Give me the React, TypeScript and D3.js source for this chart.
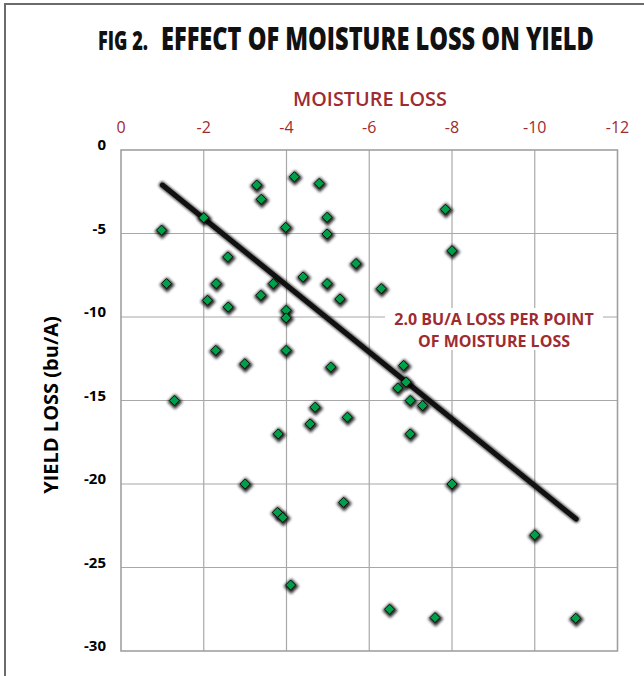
import * as d3 from "d3";
import { useLayoutEffect, useRef } from "react";

// moisture loss (points) and yield loss (bu/A)
const moistureLoss = [
  -0.98, -1.1, -1.29, -2.0, -2.09, -2.3, -2.29, -2.58, -2.59, -2.99,
  -3.0, -3.28, -3.39, -3.38, -3.68, -3.8, -3.78, -3.91, -3.98, -3.99,
  -3.99, -3.99, -4.1, -4.19, -4.4, -4.57, -4.69, -4.79, -4.98, -4.98,
  -4.98, -5.07, -5.29, -5.38, -5.47, -5.68, -6.29, -6.49, -6.83, -6.69,
  -6.89, -6.99, -7.29, -6.99, -7.59, -7.84, -8.0, -8.0, -10.0, -10.99,
];
const yieldLoss = [
  -4.8, -8.0, -15.0, -4.05, -9.0, -8.0, -12.0, -6.4, -9.4, -12.8,
  -20.0, -2.1, -2.95, -8.7, -8.0, -17.0, -21.7, -22.0, -4.63, -9.6,
  -10.05, -12.0, -26.05, -1.6, -7.6, -16.4, -15.4, -2.0, -4.03, -5.03,
  -8.0, -13.0, -8.92, -21.1, -16.0, -6.8, -8.3, -27.5, -12.9, -14.25,
  -13.9, -15.0, -15.3, -17.0, -28.0, -3.55, -6.03, -20.0, -23.05, -28.04,
];

// fitted line: 2.0 bu/A per point
const trendX = [-1, -11];
const trendY = [-2.1, -22.1];

const xTicks = [0, -2, -4, -6, -8, -10, -12];
const yTicks = [0, -5, -10, -15, -20, -25, -30];

const red = "#9e2b2f";
const font = "'Open Sans', 'Noto Sans', sans-serif";

// squeezes a text horizontally so it spans `w` pixels from x
const FitText = ({ x, y, w, size, weight, fill, children }: any) => {
  const ref = useRef<SVGTextElement>(null);
  useLayoutEffect(() => {
    const el = ref.current;
    if (!el) return;
    const natural = el.getComputedTextLength();
    const k = natural > 0 ? w / natural : 1;
    el.setAttribute("transform", `translate(${x},${y}) scale(${k},1)`);
  }, [x, y, w]);
  return (
    <text ref={ref} transform={`translate(${x},${y})`} fontFamily={font}
      fontWeight={weight} fontSize={size} fill={fill}>
      {children}
    </text>
  );
};

export default function App() {
  const width = 644;
  const height = 676;

  const x = d3.scaleLinear().domain([0, -12]).range([121, 617.5]);
  const y = d3.scaleLinear().domain([0, -30]).range([150, 651]);

  const line = d3
    .line<number>()
    .x((d) => x(trendX[d]))
    .y((d) => y(trendY[d]));

  const diamond = d3.symbol().type(d3.symbolDiamond2).size(64)() ?? "";
  const halo = d3.symbol().type(d3.symbolDiamond2).size(150)() ?? "";

  return (
    <svg
      width={width}
      height={height}
      style={{ position: "absolute", left: 0, top: 0, background: "#fff" }}
    >
      <defs>
        <filter id="blur" x="-100%" y="-100%" width="300%" height="300%">
          <feGaussianBlur stdDeviation="1.6" />
        </filter>
        <filter id="lineShadow" x="-10%" y="-10%" width="120%" height="120%">
          <feGaussianBlur stdDeviation="1.3" />
        </filter>
      </defs>

      {/* outer frame */}
      <rect x={5} y={4} width={700} height={700} fill="none" stroke="#6b6b6b" strokeWidth={2} />

      {/* title */}
      <FitText x={98} y={50} w={50} size={26} weight={800} fill="#111">FIG 2.</FitText>
      <FitText x={161} y={50} w={433} size={31} weight={800} fill="#111">
        EFFECT OF MOISTURE LOSS ON YIELD
      </FitText>

      {/* top axis */}
      <FitText x={293} y={106} w={154} size={19} weight={600} fill={red}>MOISTURE LOSS</FitText>
      {xTicks.map((t) => (
        <text key={t} x={x(t)} y={133} textAnchor="middle" fontFamily={font}
          fontSize={16} fill={red}>
          {t}
        </text>
      ))}

      {/* left axis */}
      {yTicks.map((t) => (
        <text key={t} x={106} y={y(t) - 5} dy="0.35em" textAnchor="end" fontFamily={font}
          fontWeight={700} fontSize={15} fill="#000">
          {t}
        </text>
      ))}
      <text transform="translate(58,405) rotate(-90)" textAnchor="middle" fontFamily={font}
        fontWeight={700} fontSize={20} fill="#000">
        YIELD LOSS (bu/A)
      </text>

      {/* grid */}
      <g stroke="#a8a8a8" strokeWidth={1.2}>
        {xTicks.slice(1, -1).map((t) => (
          <line key={"gx" + t} x1={x(t)} x2={x(t)} y1={y(0)} y2={y(-30)} />
        ))}
        {yTicks.slice(1, -1).map((t) => (
          <line key={"gy" + t} x1={x(0)} x2={x(-12)} y1={y(t)} y2={y(t)} />
        ))}
      </g>
      <rect x={x(0)} y={y(0)} width={x(-12) - x(0)} height={y(-30) - y(0)}
        fill="none" stroke="#a0a0a0" strokeWidth={1.6} />

      {/* annotation */}
      <rect x={385} y={308} width={218} height={42} fill="#fff" />
      <text x={494} y={325} textAnchor="middle" fontFamily={font} fontWeight={700}
        fontSize={16} fill={red}>
        2.0 BU/A LOSS PER POINT
      </text>
      <text x={494} y={347} textAnchor="middle" fontFamily={font} fontWeight={700}
        fontSize={16} fill={red}>
        OF MOISTURE LOSS
      </text>

      {/* trend line */}
      <path d={line([0, 1]) ?? ""} stroke="#000" strokeOpacity={0.6} strokeWidth={7.5}
        strokeLinecap="round" fill="none" filter="url(#lineShadow)" />
      <path d={line([0, 1]) ?? ""} stroke="#111" strokeWidth={5} strokeLinecap="round" fill="none" />

      {/* point halos */}
      {moistureLoss.map((m, i) => (
        <path key={"h" + i} d={halo} transform={`translate(${x(m) + 0.6},${y(yieldLoss[i]) + 1.2})`}
          fill="#000" opacity={0.85} filter="url(#blur)" />
      ))}
      {/* points */}
      {moistureLoss.map((m, i) => (
        <path key={i} d={diamond} transform={`translate(${x(m)},${y(yieldLoss[i])})`}
          fill="#00a04b" stroke="#000" strokeWidth={0.8} />
      ))}
    </svg>
  );
}
